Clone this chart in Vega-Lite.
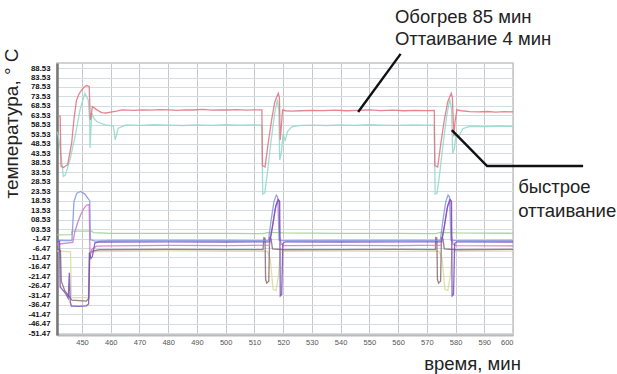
{
"$schema": "https://vega.github.io/schema/vega-lite/v6.json",
"width": 456, "height": 272,
"autosize": {"type": "none"},
"padding": {"left": 57, "top": 63, "right": 104, "bottom": 39},
"background": "white",
"config": {"view": {"stroke": "#c4c4c4", "strokeWidth": 1.5}, "font": "Liberation Sans"},
"datasets": {
"series": [
{"s":"c","t":441.3,"v":55},{"s":"c","t":441.8,"v":52.4},{"s":"c","t":442.5,"v":45},{"s":"c","t":442.9,"v":40},{"s":"c","t":443.5,"v":31.3},{"s":"c","t":444.2,"v":32},{"s":"c","t":445.8,"v":40.1},{"s":"c","t":447.6,"v":52.4},{"s":"c","t":449.3,"v":66.4},{"s":"c","t":451.0,"v":75.2},{"s":"c","t":452.2,"v":71.6},{"s":"c","t":452.7,"v":60},{"s":"c","t":452.8,"v":46.3},{"s":"c","t":453.4,"v":64.7},{"s":"c","t":454.2,"v":62},{"s":"c","t":455.1,"v":60.3},{"s":"c","t":458.0,"v":58.5},{"s":"c","t":460.9,"v":58},{"s":"c","t":461.3,"v":54},{"s":"c","t":461.5,"v":50.6},{"s":"c","t":462.0,"v":53},{"s":"c","t":462.6,"v":56.8},{"s":"c","t":465.5,"v":58.5},{"s":"c","t":470,"v":58.3},{"s":"c","t":475,"v":58.6},{"s":"c","t":480,"v":58.4},{"s":"c","t":485,"v":58.2},{"s":"c","t":490,"v":58.5},{"s":"c","t":495,"v":58.3},{"s":"c","t":500,"v":58.6},{"s":"c","t":505,"v":58.4},{"s":"c","t":510,"v":58.5},{"s":"c","t":512.6,"v":58.4},{"s":"c","t":512.9,"v":22},{"s":"c","t":513.6,"v":22.5},{"s":"c","t":514.5,"v":33},{"s":"c","t":515.8,"v":50},{"s":"c","t":517.0,"v":64},{"s":"c","t":518.0,"v":72},{"s":"c","t":518.5,"v":66},{"s":"c","t":518.8,"v":40},{"s":"c","t":519.4,"v":44},{"s":"c","t":520.0,"v":54},{"s":"c","t":520.7,"v":50},{"s":"c","t":521.5,"v":55},{"s":"c","t":523,"v":57.5},{"s":"c","t":526,"v":58.3},{"s":"c","t":530,"v":58.4},{"s":"c","t":535,"v":58.2},{"s":"c","t":540,"v":58.5},{"s":"c","t":545,"v":58.3},{"s":"c","t":550,"v":58.6},{"s":"c","t":555,"v":58.4},{"s":"c","t":560,"v":58.3},{"s":"c","t":565,"v":58.5},{"s":"c","t":570,"v":58.4},{"s":"c","t":572.6,"v":58.4},{"s":"c","t":572.9,"v":22},{"s":"c","t":573.6,"v":22.5},{"s":"c","t":574.5,"v":33},{"s":"c","t":575.8,"v":50},{"s":"c","t":577.0,"v":64},{"s":"c","t":578.0,"v":72},{"s":"c","t":578.6,"v":67},{"s":"c","t":579.0,"v":43.6},{"s":"c","t":579.6,"v":46},{"s":"c","t":580.2,"v":54},{"s":"c","t":581,"v":52},{"s":"c","t":582.5,"v":56.5},{"s":"c","t":585,"v":57.8},{"s":"c","t":590,"v":57.6},{"s":"c","t":595,"v":57.8},{"s":"c","t":600,"v":57.7},
{"s":"r","t":441.3,"v":63.5},{"s":"r","t":442.4,"v":63},{"s":"r","t":442.7,"v":36.6},{"s":"r","t":443.5,"v":36},{"s":"r","t":445.0,"v":37.5},{"s":"r","t":446.4,"v":48.9},{"s":"r","t":447.3,"v":62.9},{"s":"r","t":448.1,"v":71.6},{"s":"r","t":449.0,"v":75},{"s":"r","t":449.9,"v":77},{"s":"r","t":450.8,"v":78.5},{"s":"r","t":451.6,"v":79.3},{"s":"r","t":452.5,"v":78.8},{"s":"r","t":452.9,"v":61.2},{"s":"r","t":453.1,"v":62},{"s":"r","t":453.6,"v":68.2},{"s":"r","t":454.3,"v":67.5},{"s":"r","t":455.1,"v":66.6},{"s":"r","t":456.8,"v":65},{"s":"r","t":458.5,"v":64.8},{"s":"r","t":460,"v":65.3},{"s":"r","t":462,"v":65.8},{"s":"r","t":464,"v":66.4},{"s":"r","t":468,"v":66.2},{"s":"r","t":471,"v":66.5},{"s":"r","t":474,"v":66.3},{"s":"r","t":477,"v":66.6},{"s":"r","t":480,"v":66.4},{"s":"r","t":483,"v":66.2},{"s":"r","t":486,"v":66.5},{"s":"r","t":489,"v":66.4},{"s":"r","t":492,"v":66.7},{"s":"r","t":495,"v":66.3},{"s":"r","t":498,"v":66.5},{"s":"r","t":501,"v":66.4},{"s":"r","t":504,"v":66.6},{"s":"r","t":507,"v":66.3},{"s":"r","t":510,"v":66.5},{"s":"r","t":512.6,"v":66.4},{"s":"r","t":512.8,"v":37},{"s":"r","t":513.7,"v":36.3},{"s":"r","t":514.8,"v":48.9},{"s":"r","t":516.0,"v":61.2},{"s":"r","t":517.1,"v":70.8},{"s":"r","t":518.3,"v":75.2},{"s":"r","t":518.7,"v":73},{"s":"r","t":519.0,"v":50.6},{"s":"r","t":519.4,"v":58},{"s":"r","t":519.8,"v":66.5},{"s":"r","t":520.9,"v":66},{"s":"r","t":523,"v":65.8},{"s":"r","t":526,"v":66},{"s":"r","t":530,"v":66.2},{"s":"r","t":534,"v":66.1},{"s":"r","t":538,"v":66.3},{"s":"r","t":542,"v":66},{"s":"r","t":546,"v":66.2},{"s":"r","t":550,"v":66.4},{"s":"r","t":554,"v":66.1},{"s":"r","t":558,"v":66.3},{"s":"r","t":562,"v":66},{"s":"r","t":566,"v":66.2},{"s":"r","t":570,"v":66.1},{"s":"r","t":572.6,"v":66.2},{"s":"r","t":572.8,"v":37},{"s":"r","t":573.8,"v":36.3},{"s":"r","t":574.9,"v":48.9},{"s":"r","t":576.1,"v":61.2},{"s":"r","t":577.3,"v":70.8},{"s":"r","t":578.5,"v":75.2},{"s":"r","t":578.9,"v":73},{"s":"r","t":579.4,"v":52.4},{"s":"r","t":579.8,"v":60},{"s":"r","t":580.5,"v":66.5},{"s":"r","t":582,"v":66},{"s":"r","t":585,"v":65.5},{"s":"r","t":588,"v":65.4},{"s":"r","t":591,"v":65.6},{"s":"r","t":594,"v":65.3},{"s":"r","t":597,"v":65.5},{"s":"r","t":600,"v":65.4},
{"s":"g","t":441.3,"v":0.5},{"s":"g","t":446.3,"v":0.6},{"s":"g","t":446.5,"v":2.4},{"s":"g","t":453.4,"v":2.4},{"s":"g","t":454,"v":1.6},{"s":"g","t":460,"v":1.3},{"s":"g","t":480,"v":1.2},{"s":"g","t":500,"v":1.2},{"s":"g","t":513,"v":1.1},{"s":"g","t":515,"v":1.8},{"s":"g","t":520,"v":1.5},{"s":"g","t":540,"v":1.2},{"s":"g","t":560,"v":1.2},{"s":"g","t":573,"v":1.1},{"s":"g","t":575,"v":1.8},{"s":"g","t":580,"v":1.5},{"s":"g","t":600,"v":1.3},
{"s":"y","t":441.3,"v":-8},{"s":"y","t":446.0,"v":-8.5},{"s":"y","t":446.3,"v":-32.7},{"s":"y","t":452.2,"v":-32.7},{"s":"y","t":452.5,"v":-9},{"s":"y","t":455,"v":-8.4},{"s":"y","t":480,"v":-8},{"s":"y","t":500,"v":-8.2},{"s":"y","t":514.5,"v":-8.3},{"s":"y","t":515.5,"v":-12},{"s":"y","t":516.5,"v":-28.3},{"s":"y","t":517.5,"v":-29},{"s":"y","t":518.3,"v":-22},{"s":"y","t":519.0,"v":-9},{"s":"y","t":520,"v":-8.2},{"s":"y","t":540,"v":-8.1},{"s":"y","t":560,"v":-8.3},{"s":"y","t":574.3,"v":-8.3},{"s":"y","t":575.3,"v":-12},{"s":"y","t":576.3,"v":-28.3},{"s":"y","t":577.3,"v":-29},{"s":"y","t":578.1,"v":-22},{"s":"y","t":578.8,"v":-9},{"s":"y","t":580,"v":-8.2},{"s":"y","t":600,"v":-8.1},
{"s":"br","t":441.3,"v":-7},{"s":"br","t":442.5,"v":-7.8},{"s":"br","t":442.8,"v":-24},{"s":"br","t":444,"v":-29},{"s":"br","t":445.5,"v":-32},{"s":"br","t":446.5,"v":-34},{"s":"br","t":451.5,"v":-34.5},{"s":"br","t":452.4,"v":-33},{"s":"br","t":452.7,"v":-9},{"s":"br","t":454,"v":-8},{"s":"br","t":456,"v":-7.4},{"s":"br","t":480,"v":-7.2},{"s":"br","t":500,"v":-7.3},{"s":"br","t":513,"v":-7.3},{"s":"br","t":513.3,"v":-1},{"s":"br","t":513.7,"v":-1.3},{"s":"br","t":513.9,"v":-23},{"s":"br","t":514.3,"v":-25},{"s":"br","t":515.0,"v":-24},{"s":"br","t":515.3,"v":-1},{"s":"br","t":515.8,"v":-1.5},{"s":"br","t":516.3,"v":-7},{"s":"br","t":520,"v":-7.4},{"s":"br","t":540,"v":-7.3},{"s":"br","t":560,"v":-7.2},{"s":"br","t":573,"v":-7.3},{"s":"br","t":573.1,"v":-1},{"s":"br","t":573.5,"v":-1.3},{"s":"br","t":573.7,"v":-23},{"s":"br","t":574.1,"v":-25},{"s":"br","t":574.8,"v":-24},{"s":"br","t":575.1,"v":-1},{"s":"br","t":575.6,"v":-1.5},{"s":"br","t":576.1,"v":-7},{"s":"br","t":580,"v":-7.4},{"s":"br","t":600,"v":-7.2},
{"s":"b","t":441.3,"v":-2.5},{"s":"b","t":446.5,"v":-2.6},{"s":"b","t":447.2,"v":18},{"s":"b","t":448.2,"v":22.5},{"s":"b","t":449.5,"v":23.4},{"s":"b","t":451.0,"v":22},{"s":"b","t":452.2,"v":19.5},{"s":"b","t":452.7,"v":18.5},{"s":"b","t":452.9,"v":-2},{"s":"b","t":454.5,"v":-2.8},{"s":"b","t":460,"v":-2.5},{"s":"b","t":480,"v":-2.4},{"s":"b","t":500,"v":-2.5},{"s":"b","t":512,"v":-2.6},{"s":"b","t":514.9,"v":-2.5},{"s":"b","t":515.8,"v":8},{"s":"b","t":516.8,"v":18},{"s":"b","t":517.6,"v":21.5},{"s":"b","t":518.1,"v":20.5},{"s":"b","t":518.4,"v":8},{"s":"b","t":518.6,"v":-2.3},{"s":"b","t":520,"v":-2.6},{"s":"b","t":540,"v":-2.5},{"s":"b","t":560,"v":-2.4},{"s":"b","t":574.7,"v":-2.5},{"s":"b","t":575.6,"v":8},{"s":"b","t":576.6,"v":18},{"s":"b","t":577.4,"v":21.5},{"s":"b","t":577.9,"v":20.5},{"s":"b","t":578.2,"v":8},{"s":"b","t":578.4,"v":-2.3},{"s":"b","t":580,"v":-2.6},{"s":"b","t":600,"v":-2.5},
{"s":"m","t":441.3,"v":-4.5},{"s":"m","t":446.8,"v":-3.5},{"s":"m","t":447.5,"v":2},{"s":"m","t":448.5,"v":7},{"s":"m","t":449.5,"v":11},{"s":"m","t":450.5,"v":14},{"s":"m","t":451.5,"v":16},{"s":"m","t":452.5,"v":16.4},{"s":"m","t":452.8,"v":-10.8},{"s":"m","t":453.4,"v":-7.3},{"s":"m","t":455,"v":-5.5},{"s":"m","t":460,"v":-5.3},{"s":"m","t":480,"v":-5.1},{"s":"m","t":500,"v":-5.2},{"s":"m","t":515.2,"v":-5},{"s":"m","t":516.2,"v":4},{"s":"m","t":517.2,"v":14},{"s":"m","t":518.1,"v":19},{"s":"m","t":518.6,"v":18.5},{"s":"m","t":518.8,"v":0},{"s":"m","t":519.3,"v":-4.5},{"s":"m","t":520.5,"v":-5.2},{"s":"m","t":540,"v":-5.1},{"s":"m","t":560,"v":-5.2},{"s":"m","t":575,"v":-5},{"s":"m","t":576,"v":4},{"s":"m","t":577,"v":14},{"s":"m","t":577.9,"v":19},{"s":"m","t":578.4,"v":18.5},{"s":"m","t":578.6,"v":0},{"s":"m","t":579.1,"v":-4.5},{"s":"m","t":580.3,"v":-5.2},{"s":"m","t":600,"v":-5.3},
{"s":"p","t":441.3,"v":-2.8},{"s":"p","t":442.2,"v":-3},{"s":"p","t":442.4,"v":-27},{"s":"p","t":443.5,"v":-29},{"s":"p","t":444.5,"v":-31},{"s":"p","t":445.2,"v":-33},{"s":"p","t":445.6,"v":-19.5},{"s":"p","t":445.9,"v":-35},{"s":"p","t":446.3,"v":-37.1},{"s":"p","t":449,"v":-37.3},{"s":"p","t":451.5,"v":-37},{"s":"p","t":452.3,"v":-36},{"s":"p","t":452.6,"v":-9},{"s":"p","t":453.1,"v":-12},{"s":"p","t":453.6,"v":-11},{"s":"p","t":454.5,"v":-3.7},{"s":"p","t":456,"v":-3.3},{"s":"p","t":480,"v":-3.2},{"s":"p","t":500,"v":-3.3},{"s":"p","t":515.3,"v":-3.2},{"s":"p","t":516.3,"v":5},{"s":"p","t":517.5,"v":16},{"s":"p","t":518.4,"v":19},{"s":"p","t":518.8,"v":18},{"s":"p","t":519.0,"v":-31.8},{"s":"p","t":519.5,"v":-31},{"s":"p","t":519.9,"v":-4},{"s":"p","t":520.8,"v":-3.2},{"s":"p","t":540,"v":-3.3},{"s":"p","t":560,"v":-3.2},{"s":"p","t":575.1,"v":-3.2},{"s":"p","t":576.1,"v":5},{"s":"p","t":577.3,"v":16},{"s":"p","t":578.2,"v":19},{"s":"p","t":578.6,"v":18},{"s":"p","t":578.8,"v":-31.8},{"s":"p","t":579.3,"v":-31},{"s":"p","t":579.7,"v":-4},{"s":"p","t":580.6,"v":-3.2},{"s":"p","t":600,"v":-3.3}
],
"lead": [
{"g":1,"t":546.1,"v":65.3},{"g":1,"t":560.9,"v":96},
{"g":2,"t":578.7,"v":55.8},{"g":2,"t":591.0,"v":36.8},{"g":2,"t":624.4,"v":36.8}
],
"notes": [
{"t":558.9,"v":112.3,"label":"Обогрев 85 мин"},
{"t":558.9,"v":100.7,"label":"Оттаивание 4 мин"},
{"t":601.8,"v":22.8,"label":"быстрое"},
{"t":601.8,"v":10.0,"label":"оттаивание"}
]
},
"encoding": {
"x": {"field": "t", "type": "quantitative",
  "scale": {"domain": [441.3, 600], "nice": false, "zero": false},
  "axis": {"values": [450,460,470,480,490,500,510,520,530,540,550,560,570,580,590,600],
    "title": "время, мин", "titleFontSize": 18.5, "titleFontWeight": "normal", "titleColor": "#222",
    "titleX": 415, "titleY": 34, "titleAlign": "center", "titleBaseline": "alphabetic",
    "labelFontSize": 7.5, "labelColor": "#555", "labelPadding": 3, "ticks": false,
    "grid": true, "gridColor": "#c8c8c8", "gridWidth": 1, "domainColor": "#bbbbbb", "domainWidth": 2}},
"y": {"field": "v", "type": "quantitative",
  "scale": {"domain": [-52.4, 91.2], "nice": false, "zero": false},
  "axis": {"values": [88.53,83.53,78.53,73.53,68.53,63.53,58.53,53.53,48.53,43.53,38.53,33.53,28.53,23.53,18.53,13.53,8.53,3.53,-1.47,-6.47,-11.47,-16.47,-21.47,-26.47,-31.47,-36.47,-41.47,-46.47,-51.47],
    "labelExpr": "replace(datum.value > 0 && datum.value < 10 ? '0' + format(datum.value, '.2f') : format(datum.value, '.2f'), '\u2212', '-')",
    "title": "температура, ° С", "titleFontSize": 19, "titleFontWeight": "normal", "titleColor": "#222",
    "titleAngle": -90, "titleX": -40, "titleY": 60, "titleAlign": "center", "titleBaseline": "alphabetic",
    "labelFontSize": 7.8, "labelFontWeight": "bold", "labelColor": "#111", "labelPadding": 7, "ticks": false,
    "grid": true, "gridColor": "#d3dbe3", "gridWidth": 1, "domainColor": "#777777", "domainWidth": 2.5}}
},
"layer": [
{"data": {"name": "series"},
 "mark": {"type": "line", "strokeWidth": 1.3, "opacity": 0.85},
 "encoding": {"color": {"field": "s", "type": "nominal", "legend": null,
   "scale": {"domain": ["c","r","g","y","br","b","m","p"],
     "range": ["#8fd8c8","#e0707c","#98d088","#d8dc98","#8a6a6a","#8095e0","#c878c8","#7a4cb8"]}}}},
{"data": {"name": "lead"},
 "mark": {"type": "line", "color": "#111111", "strokeWidth": 2.4},
 "encoding": {"detail": {"field": "g", "type": "nominal"}}},
{"data": {"name": "notes"},
 "mark": {"type": "text", "align": "left", "baseline": "alphabetic", "fontSize": 18.5, "color": "#222222", "font": "Liberation Sans"},
 "encoding": {"text": {"field": "label", "type": "nominal"}}}
]
}
